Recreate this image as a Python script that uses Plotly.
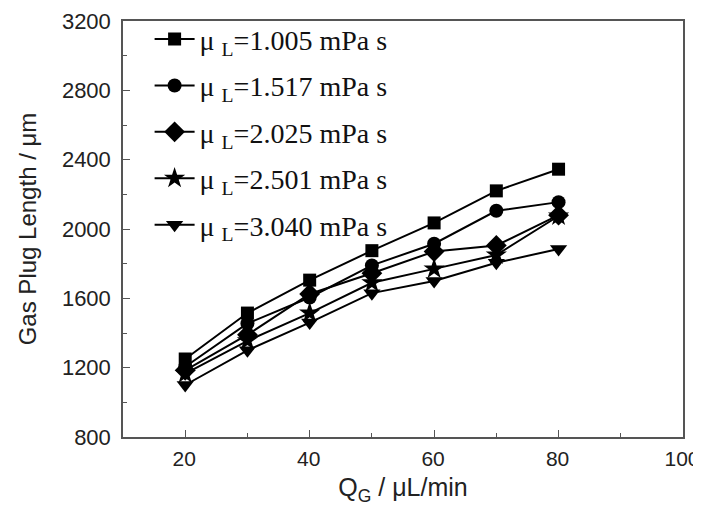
import plotly.graph_objects as go

qg = [20, 30, 40, 50, 60, 70, 80]
mu_1005 = [1250, 1515, 1705, 1875, 2035, 2220, 2345]
mu_1517 = [1205, 1455, 1605, 1790, 1915, 2105, 2155]
mu_2025 = [1185, 1390, 1625, 1745, 1870, 1905, 2080]
mu_2501 = [1165, 1355, 1515, 1690, 1770, 1850, 2075]
mu_3040 = [1100, 1300, 1460, 1630, 1700, 1805, 1885]

series_names = [
    "μ <sub>L</sub>=1.005 mPa s",
    "μ <sub>L</sub>=1.517 mPa s",
    "μ <sub>L</sub>=2.025 mPa s",
    "μ <sub>L</sub>=2.501 mPa s",
    "μ <sub>L</sub>=3.040 mPa s",
]
series_values = [mu_1005, mu_1517, mu_2025, mu_2501, mu_3040]
symbols = ["square", "circle", "diamond", "star", "triangle-down"]
sizes = [13, 14, 16, 16, 15]

fig = go.Figure()
for i, (name, vals, sym, sz) in enumerate(zip(series_names, series_values, symbols, sizes)):
    fig.add_trace(go.Scatter(
        x=qg, y=vals, name=name, mode="lines+markers",
        line=dict(color="black", width=2),
        marker=dict(symbol=sym, size=sz, color="black"),
        legendgroup=f"g{i}",
    ))

axis_common = dict(
    showline=True, linecolor="#555", linewidth=1.5, mirror=True,
    ticks="inside", ticklen=7, tickwidth=1.2, tickcolor="#555",
    showgrid=False, zeroline=False, automargin=False,
    ticklabeloverflow="allow",
)

fig.update_layout(
    width=701, height=504,
    margin=dict(l=115, r=26, t=13, b=75, autoexpand=False),
    paper_bgcolor="white", plot_bgcolor="white",
    font=dict(family="Liberation Sans, Arial", color="#222"),
    xaxis=dict(
        range=[10, 100], tickvals=[20, 40, 60, 80, 100],
        minor=dict(ticks="inside", dtick=10, ticklen=4, tickcolor="#555"),
        ticklabelstandoff=2, ticklabelshift=-1,
        tickfont=dict(family="Liberation Sans, Arial", size=21, color="#222"),
        title=dict(text="Q<sub>G</sub> / μL/min", standoff=10,
                   font=dict(family="Liberation Sans, Arial", size=25, color="#222")),
        **axis_common,
    ),
    yaxis=dict(
        range=[800, 3200], tickvals=[800, 1200, 1600, 2000, 2400, 2800, 3200],
        minor=dict(ticks="inside", dtick=200, ticklen=4, tickcolor="#555"),
        ticklabelstandoff=6,
        tickfont=dict(family="Liberation Sans, Arial", size=22, color="#222"),
        title=dict(text="Gas Plug Length / μm", standoff=18,
                   font=dict(family="Liberation Sans, Arial", size=24, color="#222")),
        **axis_common,
    ),
    legend=dict(
        x=0.0475, y=1.016, xanchor="left", yanchor="top",
        bgcolor="rgba(0,0,0,0)",
        font=dict(family="Liberation Serif, Times New Roman", size=28, color="#111"),
        tracegroupgap=7,
        itemwidth=40,
    ),
    showlegend=True,
)

fig.write_html("out.html")
